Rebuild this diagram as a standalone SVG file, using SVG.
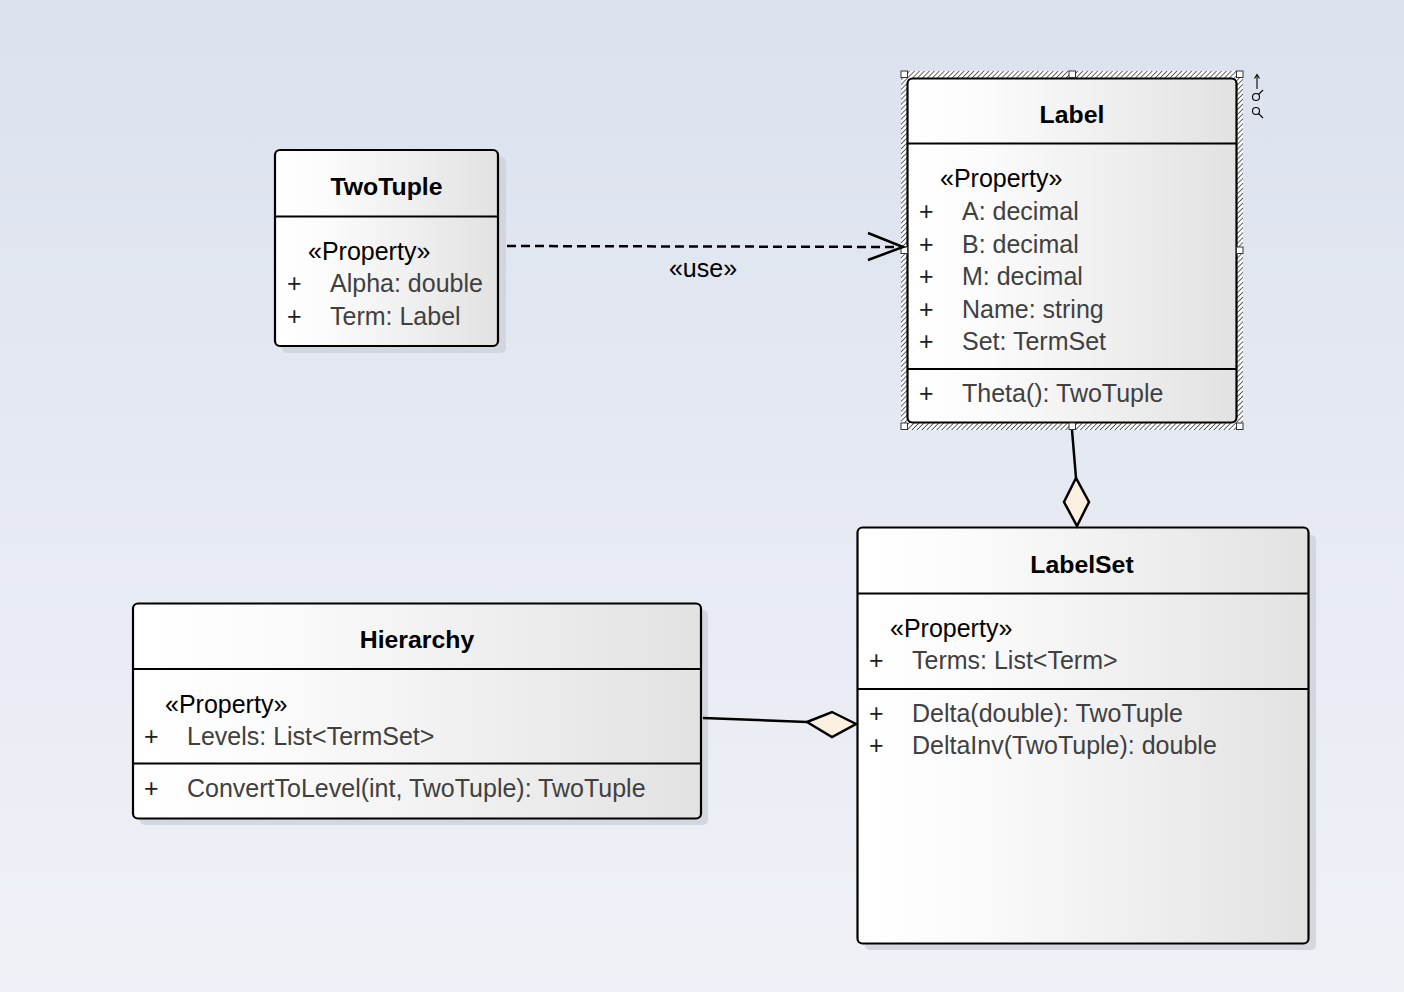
<svg xmlns="http://www.w3.org/2000/svg" width="1404" height="992" viewBox="0 0 1404 992">
<defs>
<linearGradient id="bg" x1="0" y1="0" x2="0" y2="1">
<stop offset="0" stop-color="#dbe2ee"/>
<stop offset="1" stop-color="#f0f1f7"/>
</linearGradient>
<linearGradient id="boxfill" x1="0" y1="0" x2="1" y2="0">
<stop offset="0" stop-color="#ffffff"/>
<stop offset="0.25" stop-color="#fbfbfb"/>
<stop offset="1" stop-color="#e2e2e2"/>
</linearGradient>
<pattern id="hatch" width="3.5" height="3.5" patternUnits="userSpaceOnUse" patternTransform="rotate(45)">
<rect width="3.5" height="3.5" fill="#ffffff"/>
<line x1="0" y1="0" x2="0" y2="3.5" stroke="#333" stroke-width="1.5"/>
</pattern>
<style>
.box{fill:url(#boxfill);stroke:#000;stroke-width:2.2}
.shadow{fill:#cfd2da;opacity:0.85}
.sep{stroke:#000;stroke-width:2.2}
.title{font-family:"Liberation Sans",Arial,sans-serif;font-size:24.8px;font-weight:bold;fill:#000;text-anchor:middle}
.st{font-family:"Liberation Sans",Arial,sans-serif;font-size:25px;fill:#000}
.mem{font-family:"Liberation Sans",Arial,sans-serif;font-size:25px;fill:#404040}
.vis{font-family:"Liberation Sans",Arial,sans-serif;font-size:25px;fill:#202020}
.handle{fill:#fff;stroke:#333;stroke-width:1}
.conn{stroke:#000;stroke-width:2.5;fill:none}
.diamond{fill:#fcf0e0;stroke:#000;stroke-width:2.5;stroke-linejoin:miter}
</style>
</defs>
<rect x="0" y="0" width="1404" height="992" fill="url(#bg)"/>

<g id="TwoTuple">
<rect class="shadow" x="282" y="157" width="224" height="196" rx="5"/>
<rect class="box" x="275" y="150" width="223" height="196" rx="5"/>
<line class="sep" x1="275" y1="216.5" x2="498" y2="216.5"/>
<text class="title" x="386.5" y="195">TwoTuple</text>
<text class="st" x="308" y="260">«Property»</text>
<text class="vis" x="287" y="292">+</text>
<text class="mem" x="330" y="292">Alpha: double</text>
<text class="vis" x="287" y="325">+</text>
<text class="mem" x="330" y="325">Term: Label</text>
</g>

<g id="Label">
<rect x="901" y="71" width="342" height="359" fill="url(#hatch)"/>
<rect class="box" x="907.5" y="78.5" width="329" height="344" rx="5"/>
<line class="sep" x1="907.5" y1="143.5" x2="1236.5" y2="143.5"/>
<line class="sep" x1="907.5" y1="369" x2="1236.5" y2="369"/>
<text class="title" x="1072" y="123">Label</text>
<text class="st" x="940" y="187">«Property»</text>
<text class="vis" x="919" y="220">+</text>
<text class="mem" x="962" y="220">A: decimal</text>
<text class="vis" x="919" y="252.5">+</text>
<text class="mem" x="962" y="252.5">B: decimal</text>
<text class="vis" x="919" y="285">+</text>
<text class="mem" x="962" y="285">M: decimal</text>
<text class="vis" x="919" y="317.5">+</text>
<text class="mem" x="962" y="317.5">Name: string</text>
<text class="vis" x="919" y="350">+</text>
<text class="mem" x="962" y="350">Set: TermSet</text>
<text class="vis" x="919" y="402">+</text>
<text class="mem" x="962" y="402">Theta(): TwoTuple</text>
<rect class="handle" x="901" y="71" width="6.5" height="6.5"/>
<rect class="handle" x="1069" y="71" width="6.5" height="6.5"/>
<rect class="handle" x="1236.5" y="71" width="6.5" height="6.5"/>
<rect class="handle" x="901" y="247" width="6.5" height="6.5"/>
<rect class="handle" x="1236.5" y="247" width="6.5" height="6.5"/>
<rect class="handle" x="901" y="423" width="6.5" height="6.5"/>
<rect class="handle" x="1069" y="423" width="6.5" height="6.5"/>
<rect class="handle" x="1236.5" y="423" width="6.5" height="6.5"/>
<g stroke="#000" stroke-width="1.1" fill="none">
<line x1="1257" y1="75" x2="1257" y2="89"/>
<polyline points="1254.5,78.5 1257,74.5 1259.5,78.5"/>
<circle cx="1256" cy="97" r="3.5"/>
<line x1="1258.5" y1="94.5" x2="1263" y2="90"/>
<circle cx="1256" cy="111" r="3.5"/>
<line x1="1258.5" y1="113.5" x2="1263" y2="118"/>
</g>
</g>

<g id="Hierarchy">
<rect class="shadow" x="140" y="610" width="568" height="215" rx="5"/>
<rect class="box" x="133" y="603.5" width="568" height="215" rx="5"/>
<line class="sep" x1="133" y1="669" x2="701" y2="669"/>
<line class="sep" x1="133" y1="763.5" x2="701" y2="763.5"/>
<text class="title" x="417" y="648">Hierarchy</text>
<text class="st" x="165" y="712.5">«Property»</text>
<text class="vis" x="144" y="745">+</text>
<text class="mem" x="187" y="745">Levels: List&lt;TermSet&gt;</text>
<text class="vis" x="144" y="797">+</text>
<text class="mem" x="187" y="797">ConvertToLevel(int, TwoTuple): TwoTuple</text>
</g>

<g id="LabelSet">
<rect class="shadow" x="865" y="535" width="451" height="415" rx="5"/>
<rect class="box" x="857.5" y="527.5" width="451" height="416" rx="5"/>
<line class="sep" x1="857.5" y1="593.5" x2="1308.5" y2="593.5"/>
<line class="sep" x1="857.5" y1="689" x2="1308.5" y2="689"/>
<text class="title" x="1082" y="573">LabelSet</text>
<text class="st" x="890" y="637">«Property»</text>
<text class="vis" x="869" y="669">+</text>
<text class="mem" x="912" y="669">Terms: List&lt;Term&gt;</text>
<text class="vis" x="869" y="721.5">+</text>
<text class="mem" x="912" y="721.5">Delta(double): TwoTuple</text>
<text class="vis" x="869" y="754">+</text>
<text class="mem" x="912" y="754">DeltaInv(TwoTuple): double</text>
</g>

<g id="connectors">
<line class="conn" x1="507" y1="246" x2="903" y2="247" stroke-dasharray="9,5"/>
<polyline class="conn" points="868,233 903,247 868,260"/>
<text class="st" x="703" y="277" text-anchor="middle">«use»</text>
<line class="conn" x1="1072" y1="430" x2="1076" y2="478"/>
<polygon class="diamond" points="1076,478 1064,502 1077,526 1089,502"/>
<line class="conn" x1="703" y1="718" x2="807" y2="722"/>
<polygon class="diamond" points="807,722 832,712 856,724 832,737"/>
</g>
</svg>
